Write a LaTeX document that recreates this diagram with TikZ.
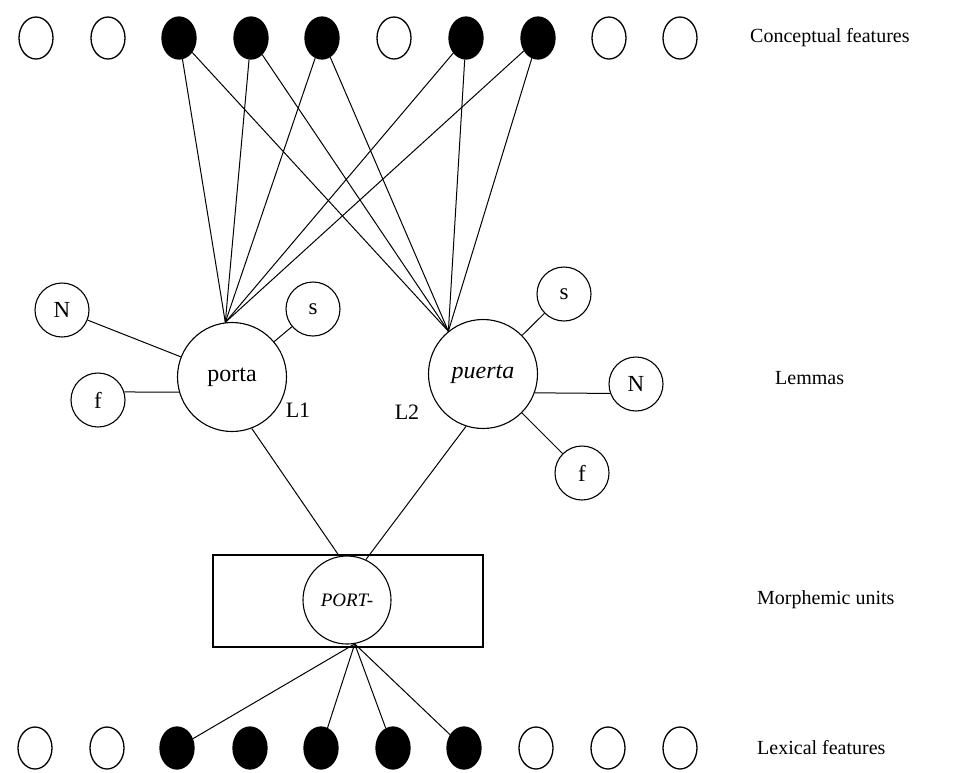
\documentclass[tikz,border=0pt]{standalone}
\usepackage{fontspec}
\setmainfont{Liberation Serif}
\usetikzlibrary{shapes,shapes.geometric,calc}
\tikzset{
  feat/.style = {ellipse, draw=black, line width=1.3pt, minimum width=34pt, minimum height=42pt, inner sep=0pt},
  feat_on/.style = {feat, fill=black},
  lemma/.style = {circle, draw=black, line width=1.1pt, minimum size=109pt, inner sep=0pt, font=\fontsize{24}{28}\selectfont},
  gram/.style = {circle, draw=black, line width=1.1pt, minimum size=54pt, inner sep=0pt, font=\fontsize{23}{27}\selectfont},
  layer/.style = {anchor=west, inner sep=0pt, font=\fontsize{20}{24}\selectfont},
  link/.style = {line width=1pt}
}

\begin{document}
\begin{tikzpicture}[x=1pt, y=-1pt]
\useasboundingbox (0,0) rectangle (955,772);
% conceptual features
\foreach \x/\s [count=\i] in {36/feat,108/feat,179/feat_on,251/feat_on,322/feat_on,
	394/feat,466/feat_on,538/feat_on,609/feat,680/feat}
	\node [\s] (con\i) at (\x,38) {};
% lexical features
\foreach \x/\s [count=\i] in {35/feat,107/feat,177/feat_on,250/feat_on,321/feat_on,
	393/feat_on,464/feat_on,536/feat,608/feat,680/feat}
	\node [\s] (lex\i) at (\x,748) {};
% lemmas
\node [lemma] (porta) at (232,377) {porta};
\node [lemma] (puerta) at (483,374) {\textit{puerta}};
\node [gram] (nL) at (62,310) {N};
\node [gram] (sL) at (313,309) {s};
\node [gram] (fL) at (98,400) {f};
\node [gram] (sR) at (564,294) {s};
\node [gram] (nR) at (636,384) {N};
\node [gram] (fR) at (582,473) {f};
\node [font=\fontsize{22}{26}\selectfont] (l1) at (298,410) {L1};
\node [font=\fontsize{22}{26}\selectfont] (l2) at (407,412) {L2};
% morphemic unit
\node [draw, line width=1.1pt, minimum width=270pt, minimum height=92pt] (mbox) at (348,601) {};
\node [circle, draw, line width=1.1pt, fill=white, minimum size=88pt, inner sep=0pt,
	font=\fontsize{19}{23}\selectfont\itshape] (port) at (347,600) {PORT-};
% layer names
\node [layer] (lc) at (750,38) {Conceptual features};
\node [layer] (ll) at (775,378) {Lemmas};
\node [layer] (lm) at (757,600) {Morphemic units};
\node [layer] (lx) at (757,748) {Lexical features};
% connections
\foreach \i in {3,4,5,7,8} {
	\draw [link] (con\i) -- (porta.97);
	\draw [link] (con\i) -- (puerta.129);
}
\draw [link] (nL) -- (porta);
\draw [link] (sL) -- (porta);
\draw [link] (fL.17) -- (porta.196);
\draw [link] (sR) -- (puerta);
\draw [link] (nR.200) -- (puerta.-20);
\draw [link] (fR) -- (puerta);
\draw [link] (porta.-69) -- (port.100);
\draw [link] (puerta.-108) -- (port.65);
\foreach \i in {3,5,6,7}
	\draw [link] (port.-80) -- (lex\i);
\end{tikzpicture}
\end{document}
